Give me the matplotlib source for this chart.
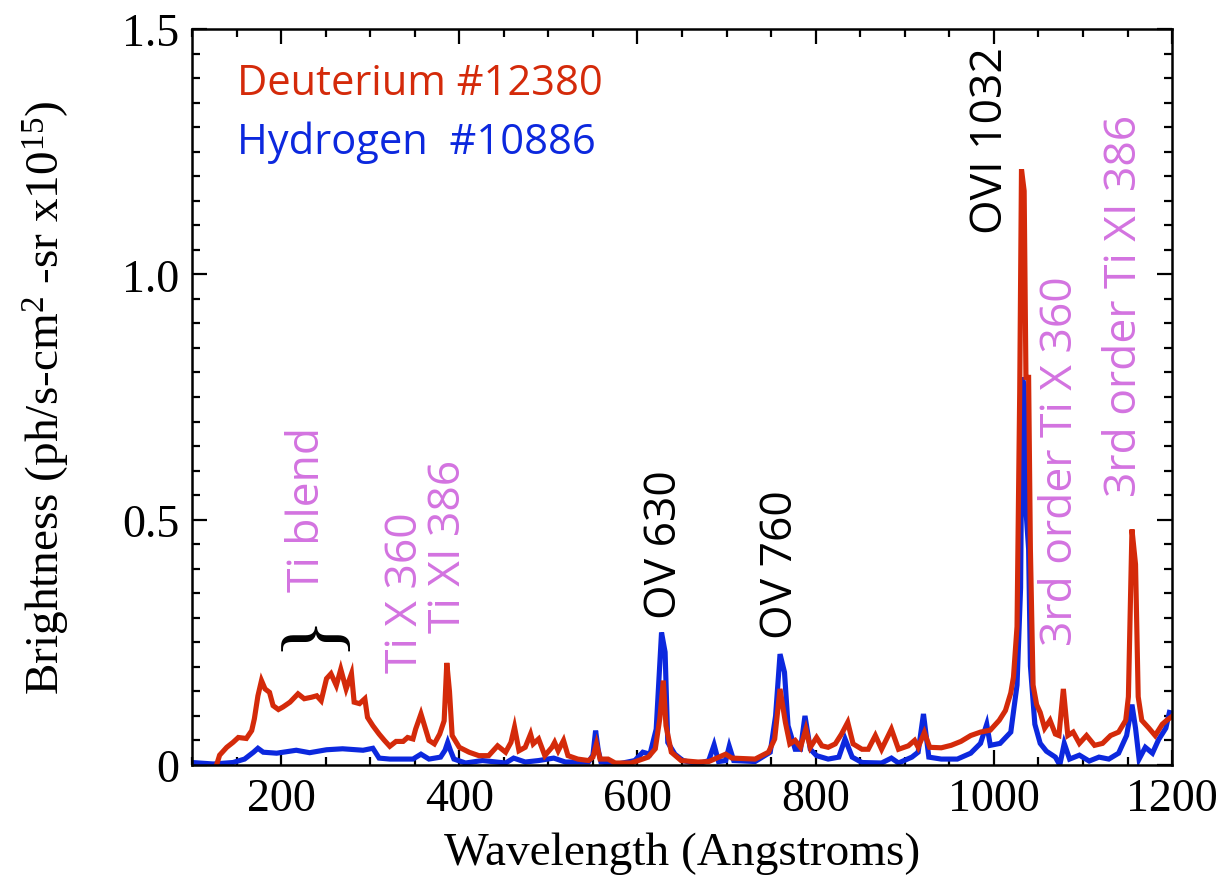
import numpy as np
import matplotlib
matplotlib.use("Agg")
import matplotlib.pyplot as plt
from matplotlib.ticker import MultipleLocator

# Deuterium shot #12380 (wavelength in Angstroms, brightness in 1e15 ph/s-cm^2-sr)
wl_d = [127.6, 131, 139, 146, 152, 161, 167, 170, 174, 178, 182, 187, 191, 197, 202, 210,
        219, 226, 234, 240, 245, 251, 256, 262, 267, 273, 279, 282, 288, 294, 297, 303,
        310, 316, 322, 329, 337, 342, 348, 351, 357, 361, 366, 372, 378, 383, 386, 389,
        392, 400, 411, 422, 433, 443, 452, 458, 462, 467, 474, 480, 483, 489, 496, 504,
        507, 511, 517, 522, 533, 545, 550, 554, 558, 567, 575, 593, 601, 612, 620, 625,
        629, 632, 638, 649, 668, 680, 699, 706, 732, 747, 754, 760, 766, 771, 777, 783,
        789, 794, 801, 807, 814, 822, 829, 836, 842, 852, 859, 867, 874, 885, 893, 904,
        911, 915, 922, 928, 941, 952, 963, 974, 985, 996, 1006, 1013, 1019, 1022, 1026,
        1029, 1031, 1034, 1036, 1039, 1041, 1044, 1048, 1052, 1057, 1063, 1069, 1073,
        1078, 1083, 1089, 1096, 1104, 1113, 1122, 1131, 1140, 1148, 1151, 1155, 1159,
        1162, 1166, 1174, 1181, 1189, 1194, 1200]
br_d = [0.0, 0.02, 0.036, 0.046, 0.056, 0.054, 0.07, 0.094, 0.141, 0.172, 0.155, 0.148,
        0.121, 0.113, 0.118, 0.128, 0.145, 0.135, 0.138, 0.141, 0.131, 0.176, 0.186, 0.162,
        0.195, 0.155, 0.186, 0.128, 0.125, 0.135, 0.097, 0.080, 0.063, 0.05, 0.038, 0.048,
        0.048, 0.056, 0.053, 0.073, 0.104, 0.080, 0.05, 0.043, 0.063, 0.09, 0.208, 0.15,
        0.06, 0.036, 0.026, 0.019, 0.019, 0.039, 0.026, 0.046, 0.077, 0.029, 0.036, 0.063,
        0.043, 0.053, 0.019, 0.036, 0.046, 0.029, 0.050, 0.019, 0.012, 0.009, 0.016, 0.043,
        0.012, 0.012, 0.004, 0.004, 0.009, 0.016, 0.033, 0.094, 0.172, 0.08, 0.026, 0.009,
        0.006, 0.007, 0.022, 0.014, 0.012, 0.026, 0.053, 0.155, 0.087, 0.043, 0.05, 0.036,
        0.073, 0.036, 0.056, 0.039, 0.036, 0.043, 0.063, 0.087, 0.043, 0.032, 0.032, 0.06,
        0.032, 0.073, 0.032, 0.039, 0.05, 0.036, 0.066, 0.036, 0.035, 0.04, 0.048, 0.06,
        0.067, 0.071, 0.091, 0.111, 0.147, 0.179, 0.282, 0.758, 1.214, 1.17, 0.79, 0.79,
        0.44, 0.163, 0.123, 0.107, 0.075, 0.091, 0.063, 0.06, 0.155, 0.06, 0.067, 0.044,
        0.06, 0.04, 0.044, 0.06, 0.067, 0.091, 0.139, 0.48, 0.409, 0.139, 0.091, 0.075,
        0.06, 0.083, 0.091, 0.099]

# Hydrogen shot #10886
wl_h = [100, 124, 146, 159, 169, 174, 180, 195, 217, 232, 251, 269, 292, 303, 310, 322,
        348, 357, 366, 379, 384, 387, 390, 394, 407, 426, 452, 461, 474, 489, 506, 519,
        545, 550, 553, 556, 559, 578, 597, 606, 614, 621, 627, 631, 634, 642, 651, 668,
        680, 686, 691, 699, 703, 708, 732, 749, 755, 760, 765, 769, 777, 783, 788, 794,
        801, 814, 826, 833, 841, 852, 874, 885, 893, 908, 915, 921, 927, 941, 959, 974,
        985, 992, 996, 1007, 1019, 1026, 1030, 1032, 1034, 1036, 1039, 1041, 1046, 1052,
        1059, 1069, 1074, 1079, 1085, 1096, 1107, 1118, 1129, 1140, 1149, 1155, 1159,
        1163, 1170, 1178, 1185, 1193, 1197]
br_h = [0.005, 0.002, 0.005, 0.012, 0.026, 0.034, 0.026, 0.024, 0.03, 0.025, 0.031, 0.033,
        0.03, 0.034, 0.014, 0.012, 0.012, 0.022, 0.012, 0.016, 0.03, 0.046, 0.03, 0.012,
        0.004, 0.009, 0.004, 0.014, 0.006, 0.009, 0.014, 0.006, 0.006, 0.02, 0.07, 0.03,
        0.006, 0.002, 0.009, 0.026, 0.022, 0.073, 0.27, 0.23, 0.046, 0.022, 0.009, 0.002,
        0.009, 0.041, 0.007, 0.009, 0.038, 0.009, 0.007, 0.026, 0.1, 0.226, 0.189, 0.08,
        0.032, 0.032, 0.1, 0.032, 0.019, 0.012, 0.016, 0.053, 0.016, 0.005, 0.004, 0.014,
        0.004, 0.016, 0.026, 0.104, 0.016, 0.012, 0.012, 0.024, 0.044, 0.083, 0.04, 0.044,
        0.067, 0.163, 0.361, 0.79, 0.774, 0.52, 0.44, 0.202, 0.083, 0.044, 0.028, 0.016,
        0.0, 0.044, 0.012, 0.02, 0.008, 0.016, 0.012, 0.024, 0.06, 0.123, 0.075, 0.012,
        0.036, 0.024, 0.052, 0.075, 0.107]

# line labels: (text, wavelength, bottom of text, colour)
line_labels = [("Ti blend", 230, 0.355, "violet"),
               ("Ti X 360", 340, 0.19, "violet"),
               ("Ti XI 386", 388, 0.27, "violet"),
               ("OV 630", 631, 0.30, "black"),
               ("OV 760", 761, 0.258, "black"),
               ("OVI 1032", 996, 1.085, "black"),
               ("3rd order Ti X 360", 1075, 0.245, "violet"),
               ("3rd order Ti XI 386", 1147, 0.548, "violet")]

red = "#d42a0a"
blue = "#0c28de"
violet = "#d373e0"
serif = "Liberation Serif"
sans = "Open Sans"

plt.rcParams["mathtext.fontset"] = "custom"
plt.rcParams["mathtext.rm"] = serif
plt.rcParams["mathtext.it"] = serif

fig = plt.figure(figsize=(12.26, 8.78), dpi=100)
ax = fig.add_axes([0.1566, 0.1276, 0.7994, 0.8382])

ax.plot(wl_h, br_h, color=blue, lw=3.7, solid_joinstyle="miter")
ax.plot(wl_d, br_d, color=red, lw=3.7, solid_joinstyle="miter")

ax.set_xlim(100, 1200)
ax.set_ylim(0, 1.5)
ax.set_xticks([200, 400, 600, 800, 1000, 1200])
ax.xaxis.set_minor_locator(MultipleLocator(50))
ax.set_yticks([0, 0.5, 1.0, 1.5])
ax.set_yticklabels(["0", "0.5", "1.0", "1.5"])
ax.yaxis.set_minor_locator(MultipleLocator(0.05))
ax.tick_params(which="both", direction="in", top=True, right=True, width=1.6)
ax.tick_params(which="major", length=11, labelsize=33, pad=9)
ax.tick_params(which="minor", length=5.5)
for lab in ax.get_xticklabels() + ax.get_yticklabels():
    lab.set_family(serif)
for sp in ax.spines.values():
    sp.set_linewidth(1.8)

ax.set_xlabel("Wavelength (Angstroms)", family=serif, fontsize=34, labelpad=8)
ax.set_ylabel("Brightness (ph/s-cm$^{2}$ -sr x10$^{15}$)", family=serif, fontsize=34,
              labelpad=36)

ax.text(150, 1.39, "Deuterium #12380", color=red, family=sans, fontsize=30, va="center")
ax.text(150, 1.27, "Hydrogen  #10886", color=blue, family=sans, fontsize=30, va="center")

for txt, x, y, c in line_labels:
    ax.text(x, y, txt, rotation=90, ha="center", va="bottom", family=sans, fontsize=32,
            color=violet if c == "violet" else "black")

# brace over the Ti blend region
ax.text(235, 0.235, "}", rotation=90, ha="center", va="bottom", family=serif,
        fontsize=60, color="black")

fig.savefig("out.png", dpi=100)
